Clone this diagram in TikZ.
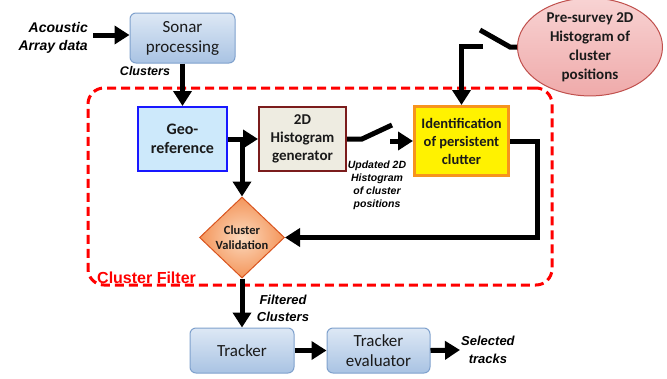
\documentclass[tikz,border=0pt]{standalone}
\usepackage{fontspec}
\setmainfont{Carlito}
\newfontfamily\lab{Liberation Sans}
\usetikzlibrary{arrows.meta,shapes.geometric}
\definecolor{sonartop}{HTML}{DDE8F5}
\definecolor{sonarbot}{HTML}{A9C3E3}
\definecolor{sonarbd}{HTML}{7FA1CD}
\definecolor{geofill}{HTML}{CDE9FB}
\definecolor{geobd}{HTML}{1818FF}
\definecolor{histfill}{HTML}{EEECE1}
\definecolor{histbd}{HTML}{7B1C1C}
\definecolor{identbd}{HTML}{F7941D}
\definecolor{valin}{HTML}{FBD9BD}
\definecolor{valout}{HTML}{F4955A}
\definecolor{valbd}{HTML}{D9541E}
\definecolor{pretop}{HTML}{F8D3D3}
\definecolor{prebot}{HTML}{EFAAAA}
\definecolor{prebd}{HTML}{C0504D}
\definecolor{txt}{HTML}{1A1A1A}
\tikzset{
  arr/.style={line width=5pt,-{Triangle[length=15pt,width=18pt]}},
  sw/.style={line width=5pt},
  bluebox/.style={draw=sonarbd,line width=1pt,rounded corners=6pt,top color=sonartop,bottom color=sonarbot,
    text=txt,align=center,font=\fontsize{17}{20}\selectfont,inner sep=0pt},
  boldbox/.style={align=center,text=txt,inner sep=0pt,font=\fontsize{14.5}{18}\selectfont\bfseries},
  lbl/.style={font=\lab\bfseries\itshape,inner sep=1pt,text=black},
  filterbox/.style={draw=red,line width=3pt,dash pattern=on 9pt off 5pt,rounded corners=16pt,inner sep=0pt}
}
\begin{document}
\begin{tikzpicture}[x=1pt,y=-1pt]
\useasboundingbox (0,0) rectangle (667,378);
% dashed filter region
\node[filterbox,minimum width=464pt,minimum height=197pt] (filter) at (320,186.5) {};
\node[anchor=base west,inner sep=0pt,text=red,font=\lab\bfseries\fontsize{16}{18}\selectfont] (ftitle) at (97,283) {Cluster Filter};
% boxes
\node[bluebox,minimum width=105pt,minimum height=50pt] (sonar) at (182.5,38) {Sonar\\processing};
\node[boldbox,draw=geobd,line width=2pt,fill=geofill,minimum width=89pt,minimum height=64pt,font=\fontsize{16}{19}\selectfont\bfseries] (geo) at (182.5,139) {Geo-\\reference};
\node[boldbox,draw=histbd,line width=2pt,fill=histfill,minimum width=87pt,minimum height=64pt,font=\fontsize{15}{18}\selectfont\bfseries] (hist) at (302.5,139) {2D\\Histogram\\generator};
\node[boldbox,draw=identbd,line width=3pt,fill=yellow,minimum width=94pt,minimum height=69pt] (ident) at (461.5,141) {Identification\\of persistent\\clutter};
\node[diamond,draw=valbd,line width=1pt,inner color=valin,outer color=valout,minimum width=85pt,minimum height=81pt,inner sep=0pt,align=center,text=txt,font=\fontsize{12.5}{15}\selectfont\bfseries] (valid) at (242,237.5) {Cluster\\Validation};
\node[ellipse,draw=prebd,line width=1pt,top color=pretop,bottom color=prebot,minimum width=145pt,minimum height=87pt,inner sep=0pt,align=center,text=txt,font=\fontsize{15}{19}\selectfont\bfseries] (pre) at (590,47) {Pre-survey 2D\\Histogram of\\cluster\\positions};
\node[bluebox,minimum width=104pt,minimum height=45pt] (tracker) at (242,350.5) {Tracker};
\node[bluebox,minimum width=103pt,minimum height=45pt] (eval) at (378.5,350.5) {Tracker\\evaluator};
% labels
\node[lbl,align=right,anchor=east,font=\lab\bfseries\itshape\fontsize{14}{18}\selectfont] (acou) at (89,38) {Acoustic\\Array data};
\node[lbl,anchor=center,font=\lab\bfseries\itshape\fontsize{12.5}{15}\selectfont] (clus) at (145,71) {Clusters};
\node[lbl,align=center,font=\lab\bfseries\itshape\fontsize{10.5}{13}\selectfont] (upd) at (377,185) {Updated 2D\\Histogram\\of cluster\\positions};
\node[lbl,align=center,font=\lab\bfseries\itshape\fontsize{13}{17}\selectfont] (filt) at (283,308) {Filtered\\Clusters};
\node[lbl,align=center,anchor=west,font=\lab\bfseries\itshape\fontsize{13}{18}\selectfont] (sel) at (460,350) {Selected\\tracks};
% coordinates
\coordinate (ain) at (93,35);
\coordinate (s1a) at (362,139);
\coordinate (s1b) at (392,125);
\coordinate (s1c) at (390,141);
\coordinate (s2a) at (510,47);
\coordinate (s2b) at (480,30);
\coordinate (s2c) at (483,46);
% connectors
\draw[arr] (ain) -- (sonar.west |- ain);
\draw[arr] (sonar.south) -- (geo.north);
\draw[arr] (geo.east) -- (hist.west);
\draw[arr] (valid.north |- geo.east) -- (valid.north);
\draw[sw] (hist.east |- s1a) -- (s1a) -- (s1b);
\draw[arr] (s1c) -- (ident.west |- s1c);
\draw[sw] (pre.west) -- (s2a) -- (s2b);
\draw[arr] (s2c) -- (ident.north |- s2c) -- (ident.north);
\draw[arr] (ident.east) -- ++(27,0) |- (valid.east);
\draw[arr] (valid.south) -- (tracker.north);
\draw[arr] (tracker.east) -- (eval.west);
\draw[arr] (eval.east) -- (sel.west);
\end{tikzpicture}
\end{document}
